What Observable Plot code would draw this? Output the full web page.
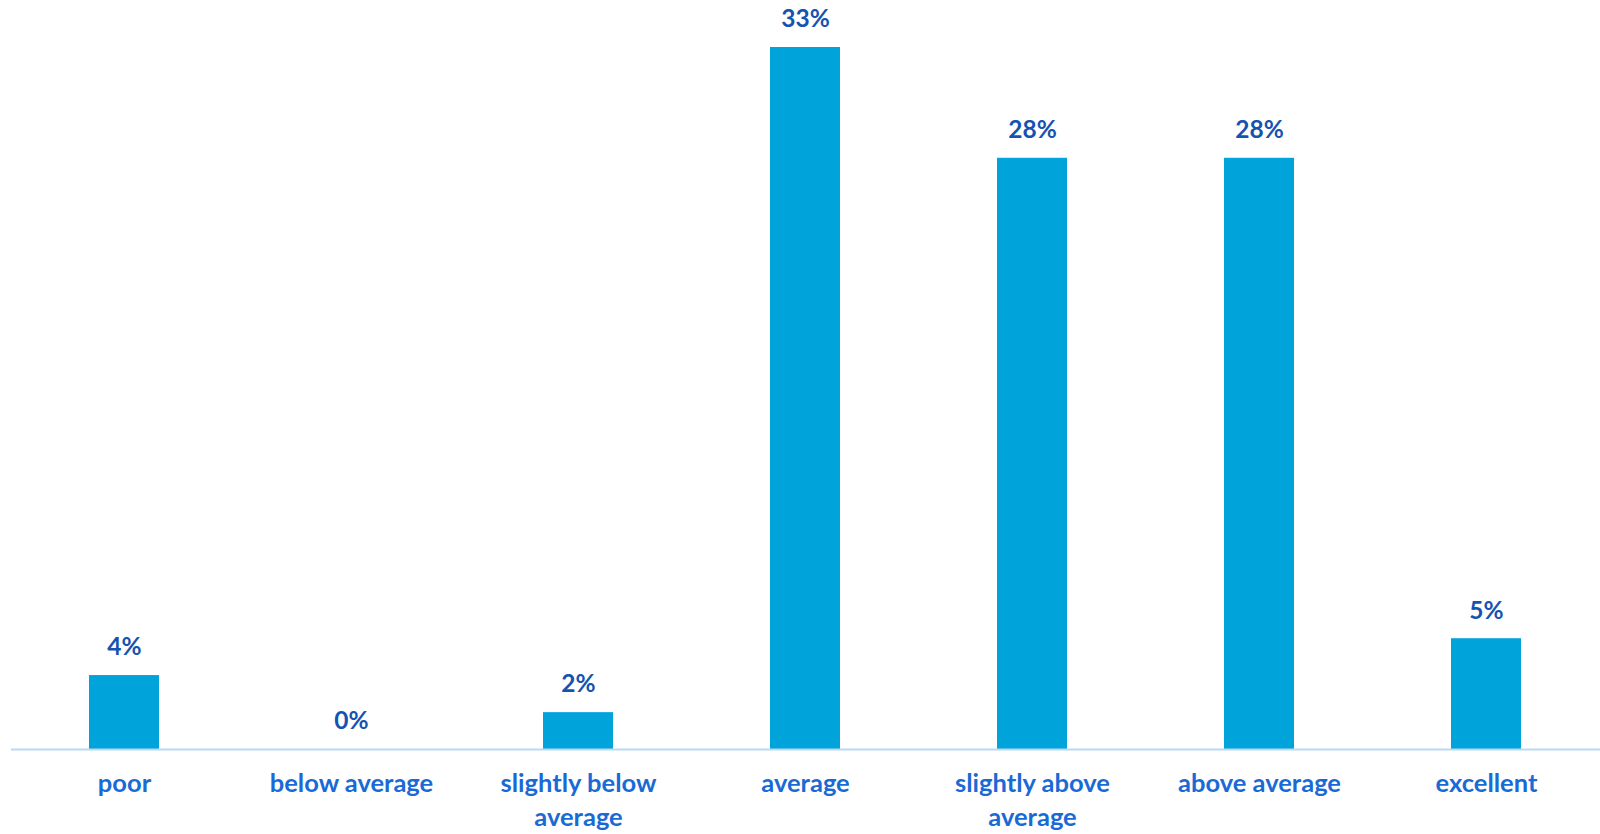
<!DOCTYPE html>
<html>
<head>
<meta charset="utf-8">
<script src="https://cdn.jsdelivr.net/npm/d3@7"></script>
<script src="https://cdn.jsdelivr.net/npm/@observablehq/plot@0.6"></script>
<style>
  html, body { margin: 0; padding: 0; background: #fff; }
  #chart svg { display: block; }
</style>
</head>
<body>
<div id="chart"></div>
<script>
const categories = ["poor", "below average", "slightly below average", "average", "slightly above average", "above average", "excellent"];
const tickLabels = ["poor", "below average", "slightly below\naverage", "average", "slightly above\naverage", "above average", "excellent"];
const values = [3.51, 0, 1.75, 33.33, 28.07, 28.07, 5.26];
const valueLabels = ["4%", "0%", "2%", "33%", "28%", "28%", "5%"];

const data = categories.map((c, i) => ({category: c, value: values[i], label: valueLabels[i]}));

const chart = Plot.plot({
  width: 1600,
  height: 834,
  marginLeft: 11,
  marginRight: 0,
  marginTop: 47,
  marginBottom: 85,
  style: {fontFamily: "Lato, 'Open Sans', sans-serif", background: "#fff"},
  x: {domain: categories, paddingInner: 0.69, paddingOuter: 0.345, align: 0.5},
  y: {domain: [0, 33.33], axis: null},
  marks: [
    Plot.barY(data, {x: "category", y: "value", fill: "#00a3da"}),
    Plot.ruleY([0], {stroke: "#bcd8f2", strokeWidth: 2}),
    Plot.text(data, {x: "category", y: "value", text: "label", dy: -28, fill: "#1652b0", fontSize: 24.5, fontWeight: "bold"}),
    Plot.axisX({
      tickSize: 0,
      tickPadding: 0,
      tickFormat: (d) => tickLabels[categories.indexOf(d)],
      fontSize: 25.5,
      fontWeight: "bold",
      fill: "#1a6ad6",
      color: "#1a6ad6",
      dy: 19,
      lineHeight: 1.32,
      label: null
    })
  ]
});
document.getElementById("chart").appendChild(chart);
</script>
</body>
</html>
